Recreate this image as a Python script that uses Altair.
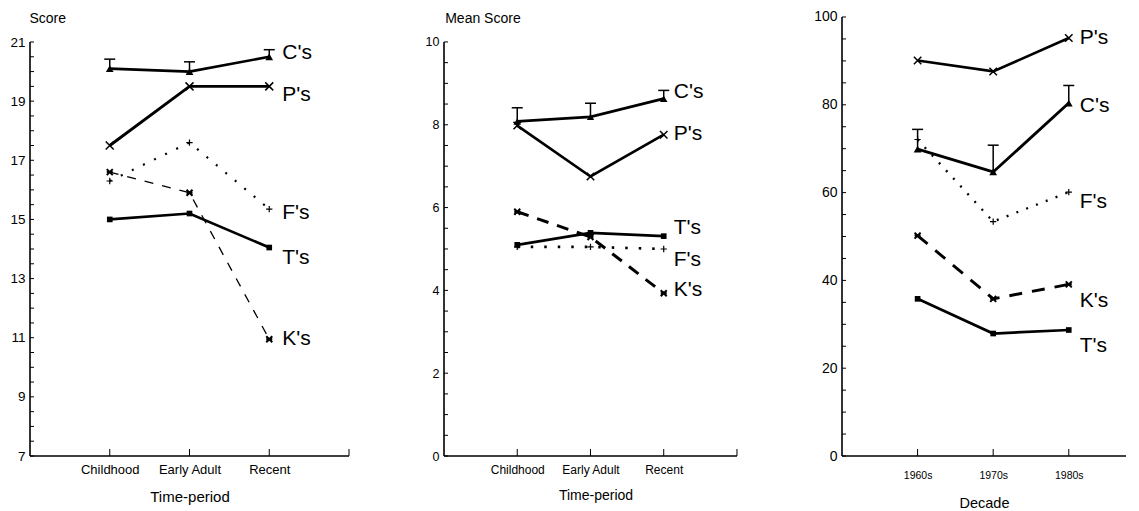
import altair as alt
import pandas as pd

groups = ["C's", "P's", "F's", "K's", "T's"]
periods = ["Childhood", "Early Adult", "Recent"]
decades = ["1960s", "1970s", "1980s"]

# Panel 1 - Score by time-period
score_C = [20.1, 20.0, 20.5]
score_C_err = [20.42, 20.33, 20.74]
score_P = [17.5, 19.5, 19.5]
score_F = [16.3, 17.6, 15.35]
score_K = [16.6, 15.9, 10.95]
score_T = [15.0, 15.2, 14.05]
score_label_y = [20.64, 19.22, 15.23, 10.97, 13.7]
score_ticks = [7, 9, 11, 13, 15, 17, 19, 21]
score_minor = [7 + 0.5 * i for i in range(29)]

# Panel 2 - Mean score by time-period
mean_C = [8.08, 8.19, 8.63]
mean_C_err = [8.41, 8.52, 8.83]
mean_P = [7.98, 6.75, 7.76]
mean_F = [5.05, 5.05, 5.0]
mean_K = [5.9, 5.29, 3.93]
mean_T = [5.1, 5.39, 5.31]
mean_label_y = [8.78, 7.78, 4.74, 4.02, 5.51]
mean_ticks = [0, 2, 4, 6, 8, 10]
mean_minor = [0.5 * i for i in range(21)]

# Panel 3 - by decade
dec_C = [69.9, 64.7, 80.4]
dec_C_err = [74.4, 70.8, 84.4]
dec_P = [90.1, 87.6, 95.2]
dec_F = [72.1, 53.4, 60.1]
dec_K = [50.2, 35.8, 39.1]
dec_T = [35.8, 27.9, 28.7]
dec_label_y = [79.7, 95.3, 57.9, 35.2, 25.0]
dec_ticks = [0, 20, 40, 60, 80, 100]
dec_minor = [5 * i for i in range(21)]

FONT = "Liberation Sans"
H = 448

X_PATH = "M-1,-1L1,1M-1,1L1,-1"
PLUS_PATH = "M-1,0L1,0M0,-1L0,1"
AST_PATH = "M-1,-1L1,1M-1,1L1,-1M-1,0L1,0"


def panel(cats, series, err, label_y, ticks, minor, ymin, ymax_axis, ytop,
          width, xmax, ytitle, title_x, xtitle, styles, fs, label_dx):
    x_scale = alt.Scale(domain=[0, xmax], nice=False, zero=False)
    y_scale = alt.Scale(domain=[ymin, ytop], nice=False, zero=False)
    label_expr = "[" + ",".join("'%s'" % c for c in cats) + "][datum.value - 1]"
    x_axis = alt.Axis(values=[1, 2, 3], labelExpr=label_expr, domain=False,
                      ticks=False, tickSize=0, grid=False,
                      labelFont=FONT, labelFontSize=fs["xlab"], labelColor="black",
                      labelPadding=fs["xpad"], title=xtitle, titleFont=FONT,
                      titleFontSize=fs["xtitle"], titleFontWeight="normal",
                      titleColor="black", titlePadding=fs["tpad"])
    ykw = dict(values=ticks, domain=False, ticks=False, tickSize=0, grid=False,
               labelFont=FONT, labelFontSize=fs["ylab"], labelColor="black",
               labelPadding=5)
    if ytitle:
        ykw.update(title=ytitle, titleAngle=0, titleAlign="left",
                   titleBaseline="middle", titleX=title_x, titleY=10,
                   titleFont=FONT, titleFontSize=14, titleFontWeight="normal",
                   titleColor="black")
    else:
        ykw.update(title=None)
    y_axis = alt.Axis(**ykw)

    def X(field=None, datum=None):
        if field is not None:
            return alt.X(field, type="quantitative", scale=x_scale, axis=x_axis)
        return alt.X(datum=datum, type="quantitative", scale=x_scale, axis=x_axis)

    def Y(field=None, datum=None):
        if field is not None:
            return alt.Y(field, type="quantitative", scale=y_scale, axis=y_axis)
        return alt.Y(datum=datum, type="quantitative", scale=y_scale, axis=y_axis)

    dummy = pd.DataFrame({"d": [0]})
    layers = []
    # axis lines
    layers.append(alt.Chart(dummy).mark_rule(color="black", strokeWidth=1.6).encode(
        x=X(datum=0), y=Y(datum=ymin), y2=alt.Y2(datum=ymax_axis)))
    x_end = min(4, xmax)
    layers.append(alt.Chart(dummy).mark_rule(color="black", strokeWidth=1.6).encode(
        x=X(datum=0), x2=alt.X2(datum=x_end), y=Y(datum=ymin)))
    # y ticks (inward)
    layers.append(alt.Chart(pd.DataFrame({"t": minor})).mark_rule(
        color="black", strokeWidth=1).encode(
        x=alt.value(0), x2=alt.value(4), y=Y("t")))
    # x ticks (inward)
    xt = [1, 2, 3] + ([4] if xmax >= 4 else [])
    layers.append(alt.Chart(pd.DataFrame({"t": xt})).mark_rule(
        color="black", strokeWidth=1).encode(
        x=X("t"), y=alt.value(H - 7), y2=alt.value(H)))

    for g in groups:
        vals = series[g]
        df = pd.DataFrame({"x": [1, 2, 3], "v": vals})
        st = styles[g]
        lkw = dict(color="black", strokeWidth=st["w"], strokeCap="butt")
        if st.get("dash"):
            lkw["strokeDash"] = st["dash"]
        layers.append(alt.Chart(df).mark_line(**lkw).encode(x=X("x"), y=Y("v")))
        pkw = dict(shape=st["shape"], size=st["size"], opacity=1)
        if st["filled"]:
            pkw.update(filled=True, color="black", strokeWidth=0)
        else:
            pkw.update(filled=False, color="black", strokeWidth=st["psw"])
        layers.append(alt.Chart(df).mark_point(**pkw).encode(x=X("x"), y=Y("v")))

    edf = pd.DataFrame({"x": [1, 2, 3], "v": series["C's"], "e": err})
    layers.append(alt.Chart(edf).mark_rule(color="black", strokeWidth=1.5).encode(
        x=X("x"), y=Y("v"), y2=alt.Y2("e")))
    layers.append(alt.Chart(edf).mark_tick(orient="horizontal", size=11, thickness=1.5,
                                           color="black", opacity=1).encode(
        x=X("x"), y=Y("e")))

    ldf = pd.DataFrame({"g": groups, "x": [3] * len(groups), "ly": label_y})
    layers.append(alt.Chart(ldf).mark_text(align="left", baseline="middle", dx=label_dx,
                                           font=FONT, fontSize=21, color="black").encode(
        x=X("x"), y=Y("ly"), text="g"))

    return alt.layer(*layers).properties(width=width, height=H)


def sty(w, shape, filled, size, psw=1.5, dash=None):
    d = dict(w=w, shape=shape, filled=filled, size=size, psw=psw)
    if dash:
        d["dash"] = dash
    return d


styles1 = {
    "C's": sty(2.6, "triangle-up", True, 60),
    "P's": sty(2.9, X_PATH, False, 64, 1.5),
    "F's": sty(2.2, PLUS_PATH, False, 40, 1.2, dash=[2, 10.3]),
    "K's": sty(1.3, AST_PATH, False, 36, 2.0, dash=[9, 9]),
    "T's": sty(2.7, "square", True, 32),
}
styles2 = {
    "C's": sty(2.7, "triangle-up", True, 55),
    "P's": sty(2.7, X_PATH, False, 56, 1.5),
    "F's": sty(2.6, PLUS_PATH, False, 40, 1.2, dash=[2.5, 11]),
    "K's": sty(3.0, AST_PATH, False, 36, 2.0, dash=[12, 9]),
    "T's": sty(2.7, "square", True, 32),
}
styles3 = {
    "C's": sty(2.9, "triangle-up", True, 60),
    "P's": sty(2.7, X_PATH, False, 56, 1.5),
    "F's": sty(2.3, PLUS_PATH, False, 40, 1.2, dash=[2, 8.5]),
    "K's": sty(2.9, AST_PATH, False, 36, 2.0, dash=[13, 10]),
    "T's": sty(2.7, "square", True, 32),
}

p1 = panel(periods,
           {"C's": score_C, "P's": score_P, "F's": score_F, "K's": score_K, "T's": score_T},
           score_C_err, score_label_y, score_ticks, score_minor,
           7, 21, 22.15, 319, 4, "Score", -1, "Time-period", styles1,
           dict(xlab=13, xtitle=15, ylab=13.5, xpad=7, tpad=13), 13)
p2 = panel(periods,
           {"C's": mean_C, "P's": mean_P, "F's": mean_F, "K's": mean_K, "T's": mean_T},
           mean_C_err, mean_label_y, mean_ticks, mean_minor,
           0, 10, 10.82, 303, 4.137, "Mean Score", 0.7, "Time-period", styles2,
           dict(xlab=12, xtitle=14, ylab=12.5, xpad=8, tpad=13), 10)
p3 = panel(decades,
           {"C's": dec_C, "P's": dec_P, "F's": dec_F, "K's": dec_K, "T's": dec_T},
           dec_C_err, dec_label_y, dec_ticks, dec_minor,
           0, 100, 102.05, 284, 3.757, None, 0, "Decade", styles3,
           dict(xlab=10.5, xtitle=14.5, ylab=14, xpad=14, tpad=16), 11)

chart = alt.hconcat(p1, p2, p3, spacing=95, bounds="flush").properties(
    padding={"left": 1, "top": 0, "right": 0, "bottom": 0},
    background="white",
).configure_view(stroke=None)

chart.save("out.html", embed_options={"renderer": "svg", "actions": False})
